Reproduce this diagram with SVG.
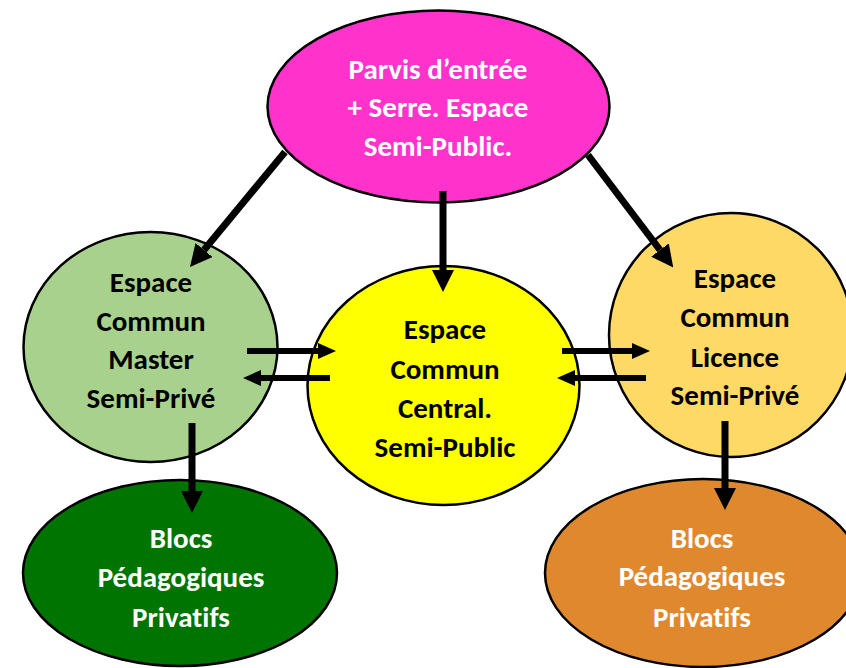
<svg xmlns="http://www.w3.org/2000/svg" width="846" height="668" viewBox="0 0 846 668">
<defs>
<style>
.n{stroke:#000;stroke-width:2.5}
.t{font-family:Carlito,Lato,"Open Sans",sans-serif;font-weight:bold;font-size:29px;text-anchor:middle;font-variant-ligatures:none;font-feature-settings:"liga" 0,"clig" 0}
.w{fill:#fff}
.b{fill:#000}
.c{stroke:#000;fill:none}
.thick{stroke-width:7}
.thin{stroke-width:6}
</style>
<marker id="ah" markerUnits="userSpaceOnUse" viewBox="0 0 10 10" refX="0" refY="5" markerWidth="22" markerHeight="22" orient="auto">
<path d="M0,0 L10,5 L0,10 z" fill="#000"/>
</marker>
<marker id="ahs" markerUnits="userSpaceOnUse" viewBox="0 0 10 10" refX="0" refY="5" markerWidth="18" markerHeight="16" orient="auto" preserveAspectRatio="none">
<path d="M0,0 L10,5 L0,10 z" fill="#000"/>
</marker>
</defs>
<rect width="846" height="668" fill="#fff"/>
<g id="parvis">
<ellipse class="n" cx="438.5" cy="106.5" rx="171" ry="96" fill="#FF33CC"/>
<text class="t w" x="438" y="79">Parvis d’entrée</text>
<text class="t w" x="438" y="117">+ Serre. Espace</text>
<text class="t w" x="438" y="156">Semi-Public.</text>
</g>
<g id="master">
<ellipse class="n" cx="150.5" cy="347" rx="127" ry="115" fill="#A9D18E"/>
<text class="t b" x="151" y="292">Espace</text>
<text class="t b" x="151" y="331">Commun</text>
<text class="t b" x="151" y="369">Master</text>
<text class="t b" x="151" y="408">Semi-Privé</text>
</g>
<g id="central">
<ellipse class="n" cx="443.5" cy="385.5" rx="136" ry="119.5" fill="#FFFF00"/>
<text class="t b" x="445" y="339">Espace</text>
<text class="t b" x="445" y="379">Commun</text>
<text class="t b" x="445" y="418">Central.</text>
<text class="t b" x="445" y="457">Semi-Public</text>
</g>
<g id="licence">
<ellipse class="n" cx="731" cy="335" rx="122" ry="122" fill="#FFD966"/>
<text class="t b" x="735" y="288">Espace</text>
<text class="t b" x="735" y="327">Commun</text>
<text class="t b" x="735" y="367">Licence</text>
<text class="t b" x="735" y="405">Semi-Privé</text>
</g>
<g id="blocs-master">
<ellipse class="n" cx="180" cy="573" rx="157" ry="93" fill="#007400"/>
<text class="t w" x="181" y="548">Blocs</text>
<text class="t w" x="181" y="587">Pédagogiques</text>
<text class="t w" x="181" y="627">Privatifs</text>
</g>
<g id="blocs-licence">
<ellipse class="n" cx="703" cy="573" rx="158" ry="94" fill="#E0882E"/>
<text class="t w" x="702" y="548">Blocs</text>
<text class="t w" x="702" y="586">Pédagogiques</text>
<text class="t w" x="702" y="627">Privatifs</text>
</g>
<g id="connectors">
<line class="c thick" x1="285" y1="152" x2="204" y2="250" marker-end="url(#ah)"/>
<line class="c thick" x1="443" y1="191" x2="443" y2="270" marker-end="url(#ah)"/>
<line class="c thick" x1="588" y1="155" x2="660" y2="250" marker-end="url(#ah)"/>
<line class="c thin" x1="247" y1="351" x2="318" y2="351" marker-end="url(#ahs)"/>
<line class="c thin" x1="330" y1="378" x2="261" y2="378" marker-end="url(#ahs)"/>
<line class="c thin" x1="562" y1="351" x2="632" y2="351" marker-end="url(#ahs)"/>
<line class="c thin" x1="646" y1="378" x2="575" y2="378" marker-end="url(#ahs)"/>
<line class="c thick" x1="192" y1="423" x2="192" y2="491" marker-end="url(#ah)"/>
<line class="c thick" x1="725" y1="421" x2="725" y2="488" marker-end="url(#ah)"/>
</g>
</svg>
